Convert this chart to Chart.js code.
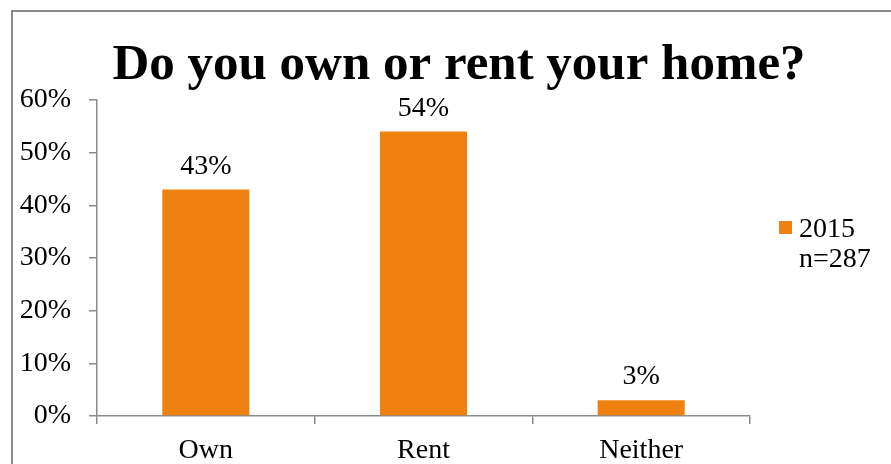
<!DOCTYPE html>
<html>
<head>
<meta charset="utf-8">
<script src="https://cdn.jsdelivr.net/npm/chart.js@4.4.1/dist/chart.umd.min.js"></script>
<style>
  html, body { margin: 0; padding: 0; background: #fff; overflow: hidden; }
  #wrap { position: relative; width: 891px; height: 464px; }
</style>
</head>
<body>
<div id="wrap"><canvas id="myChart" width="891" height="464"></canvas></div>
<script>
const categories = ['Own', 'Rent', 'Neither'];
const shares = [43, 54, 3];
const yTicks = [0, 10, 20, 30, 40, 50, 60];
const seriesLabel = '2015';
const sampleNote = 'n=287';
const chartTitle = 'Do you own or rent your home?';

const serif = "'Liberation Serif', 'DejaVu Serif', serif";
const orange = '#EF8110';
const axisGrey = '#8a8a8a';

// frame, title, value labels and legend drawn on top of the chart
const extras = {
    id: 'extras',
    beforeDraw(chart) {
        const ctx = chart.ctx;
        ctx.save();
        ctx.strokeStyle = axisGrey;
        ctx.lineWidth = 2;
        ctx.strokeRect(12, 11, 1000, 1000);
        ctx.restore();
    },
    afterDraw(chart) {
        const ctx = chart.ctx;
        ctx.save();
        ctx.fillStyle = '#000';
        ctx.textAlign = 'center';
        ctx.textBaseline = 'alphabetic';
        ctx.font = `bold 51px ${serif}`;
        ctx.fillText(chartTitle, 459, 79);

        ctx.font = `28px ${serif}`;
        const meta = chart.getDatasetMeta(0);
        meta.data.forEach((bar, i) => {
            ctx.fillText(shares[i] + '%', bar.x, bar.y - 16);
        });

        ctx.fillStyle = orange;
        ctx.fillRect(779, 221, 13, 13);
        ctx.fillStyle = '#000';
        ctx.textAlign = 'left';
        ctx.fillText(seriesLabel, 799, 237);
        ctx.fillText(sampleNote, 799, 267);
        ctx.restore();
    }
};

function makeChart() {
    const ctx = document.getElementById('myChart');

    new Chart(ctx, {
        type: 'bar',
        data: {
            labels: categories,
            datasets: [{
                label: seriesLabel,
                data: shares,
                backgroundColor: orange,
                borderWidth: 0,
                categoryPercentage: 1,
                barPercentage: 0.4
            }]
        },
        options: {
            responsive: false,
            animation: false,
            layout: { padding: { left: 0, right: 141, top: 100, bottom: 0 } },
            plugins: {
                legend: { display: false },
                tooltip: { enabled: false },
                title: { display: false }
            },
            scales: {
                x: {
                    offset: true,
                    grid: {
                        offset: true,
                        drawOnChartArea: false,
                        drawTicks: true,
                        tickLength: 8,
                        color: axisGrey,
                        lineWidth: 1.5
                    },
                    border: { color: axisGrey, width: 1.5 },
                    ticks: {
                        color: '#000',
                        padding: 10,
                        font: { family: serif, size: 28 }
                    },
                    afterFit(scale) { scale.height = 48; }
                },
                y: {
                    min: 0,
                    max: 60,
                    afterBuildTicks(scale) {
                        scale.ticks = yTicks.map(v => ({ value: v }));
                    },
                    grid: {
                        drawOnChartArea: false,
                        drawTicks: true,
                        tickLength: 8,
                        color: axisGrey,
                        lineWidth: 1.5
                    },
                    border: { color: axisGrey, width: 1.5 },
                    ticks: {
                        color: '#000',
                        padding: 18,
                        font: { family: serif, size: 28 },
                        callback: v => v + '%'
                    },
                    afterFit(scale) { scale.width = 97; }
                }
            }
        },
        plugins: [extras]
    });
}

makeChart();
</script>
</body>
</html>
